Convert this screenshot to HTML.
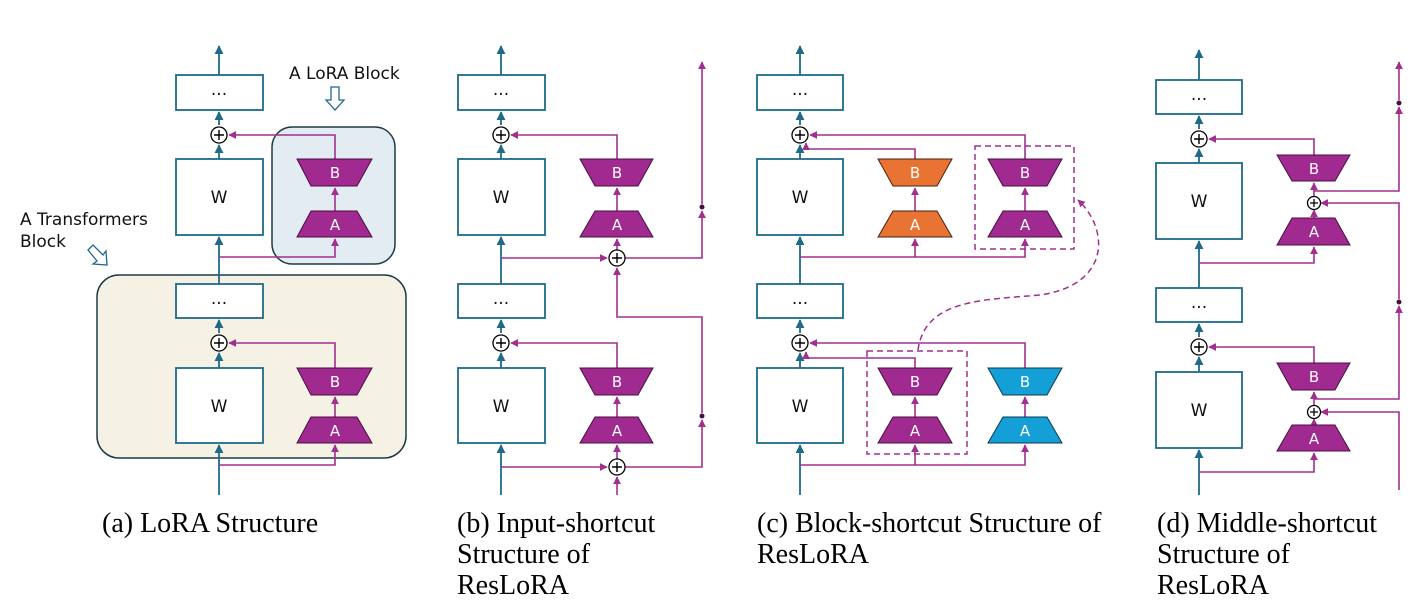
<!DOCTYPE html>
<html><head><meta charset="utf-8"><style>
html,body{margin:0;padding:0;background:#fff;}
svg{display:block}
.t{stroke:#1e6a8a;stroke-width:1.8;fill:none}
.p{stroke:#a0308f;stroke-width:1.6;fill:none}
.bx{fill:#fff;stroke:#1e6a8a;stroke-width:1.8}
.pl{fill:#fff;stroke:#000;stroke-width:1.3}
.cap{font-family:"Liberation Serif",serif;font-size:28px;fill:#000}
.lbl{font-family:"DejaVu Sans","Liberation Sans",sans-serif;font-size:15px;fill:#fff;text-anchor:middle}
.w{font-family:"DejaVu Sans","Liberation Sans",sans-serif;font-size:17px;fill:#111;text-anchor:middle}
.an{font-family:"DejaVu Sans","Liberation Sans",sans-serif;font-size:17px;fill:#111}
</style></head><body>
<svg width="1414" height="614" viewBox="0 0 1414 614" xmlns="http://www.w3.org/2000/svg">
<defs>
<marker id="mt" viewBox="0 0 10 10" refX="9" refY="5" markerWidth="5" markerHeight="5" orient="auto"><path d="M0,0L10,5L0,10z" fill="#1e6a8a"/></marker>
<marker id="mp" viewBox="0 0 10 10" refX="9" refY="5" markerWidth="5" markerHeight="5" orient="auto"><path d="M0,0L10,5L0,10z" fill="#a0308f"/></marker>
<g id="plus"><circle r="8" class="pl"/><path d="M-5,0H5M0,-5V5" stroke="#000" stroke-width="1.4"/></g>
<g id="splus"><circle r="6.5" class="pl"/><path d="M-4,0H4M0,-4V4" stroke="#000" stroke-width="1.3"/></g>
</defs>

<rect x="97" y="275" width="309" height="183" rx="22" fill="#f6f1e5" stroke="#1d3a44" stroke-width="1.5"/>
<rect x="272" y="127" width="123" height="137" rx="20" fill="#e3ecf3" stroke="#1d3a44" stroke-width="1.5"/>
<text class="an" x="289" y="79">A LoRA Block</text>
<path d="M331,87h8v13h5l-9,10l-9,-10h5z" fill="#fff" stroke="#1e6a8a" stroke-width="1.3"/>
<text class="an" x="20" y="225">A Transformers</text>
<text class="an" x="20" y="247">Block</text>
<path d="M88,250l5,-5l10,10l3,-4l1,14l-14,-1l4,-3z" fill="#fff" stroke="#1e6a8a" stroke-width="1.3"/>

<!-- Panel A -->
<g>
<path class="t" d="M219,495V445" marker-end="url(#mt)"/>
<path class="t" d="M219,368V353" marker-end="url(#mt)"/><path class="t" d="M219,333V320" marker-end="url(#mt)"/>
<path class="t" d="M219,284V237" marker-end="url(#mt)"/><path class="t" d="M219,159V145" marker-end="url(#mt)"/>
<path class="t" d="M219,125V112" marker-end="url(#mt)"/><path class="t" d="M219,75V46" marker-end="url(#mt)"/>
<rect class="bx" x="176" y="75" width="87" height="35"/><text class="w" x="219" y="95">...</text>
<rect class="bx" x="176" y="159" width="87" height="76"/><text class="w" x="219" y="203">W</text>
<rect class="bx" x="176" y="284" width="87" height="34"/><text class="w" x="219" y="304">...</text>
<rect class="bx" x="176" y="368" width="87" height="75"/><text class="w" x="219" y="412">W</text>
<use href="#plus" x="219" y="135"/><use href="#plus" x="219" y="343"/>
<path class="p" d="M219,257H335V239" marker-end="url(#mp)"/>
<path class="p" d="M335,211V188" marker-end="url(#mp)"/>
<path class="p" d="M335,159V135H229" marker-end="url(#mp)"/>
<path class="p" d="M219,465H335V445" marker-end="url(#mp)"/>
<path class="p" d="M335,417V397" marker-end="url(#mp)"/>
<path class="p" d="M335,368V343H229" marker-end="url(#mp)"/>
<path d="M297,159H372L357,186H311Z" fill="#a02a8f" stroke="#4a0e42"/><text class="lbl" x="335" y="178">B</text>
<path d="M311,211H357L372,237H297Z" fill="#a02a8f" stroke="#4a0e42"/><text class="lbl" x="335" y="230">A</text>
<path d="M297,368H372L357,395H311Z" fill="#a02a8f" stroke="#4a0e42"/><text class="lbl" x="335" y="387">B</text>
<path d="M311,417H357L372,443H297Z" fill="#a02a8f" stroke="#4a0e42"/><text class="lbl" x="335" y="436">A</text>
</g>

<!-- Panel B -->
<g>
<path class="t" d="M501,495V445" marker-end="url(#mt)"/>
<path class="t" d="M501,368V353" marker-end="url(#mt)"/><path class="t" d="M501,333V320" marker-end="url(#mt)"/>
<path class="t" d="M501,284V237" marker-end="url(#mt)"/><path class="t" d="M501,159V145" marker-end="url(#mt)"/>
<path class="t" d="M501,125V112" marker-end="url(#mt)"/><path class="t" d="M501,75V46" marker-end="url(#mt)"/>
<rect class="bx" x="458" y="75" width="87" height="35"/><text class="w" x="501" y="95">...</text>
<rect class="bx" x="458" y="159" width="87" height="76"/><text class="w" x="501" y="203">W</text>
<rect class="bx" x="458" y="284" width="87" height="34"/><text class="w" x="501" y="304">...</text>
<rect class="bx" x="458" y="368" width="87" height="75"/><text class="w" x="501" y="412">W</text>
<use href="#plus" x="501" y="135"/><use href="#plus" x="501" y="343"/>
<path class="p" d="M617,495V477" marker-end="url(#mp)"/>
<path class="p" d="M501,467H607" marker-end="url(#mp)"/>
<path class="p" d="M617,459V445" marker-end="url(#mp)"/>
<path class="p" d="M617,417V397" marker-end="url(#mp)"/>
<path class="p" d="M617,368V343H511" marker-end="url(#mp)"/>
<path class="p" d="M625,467H702V420" marker-end="url(#mp)"/>
<path class="p" d="M702,413V317H617V268" marker-end="url(#mp)"/>
<path class="p" d="M501,258H607" marker-end="url(#mp)"/>
<path class="p" d="M617,250V239" marker-end="url(#mp)"/>
<path class="p" d="M617,211V188" marker-end="url(#mp)"/>
<path class="p" d="M617,159V135H511" marker-end="url(#mp)"/>
<path class="p" d="M625,258H702V211" marker-end="url(#mp)"/>
<path class="p" d="M702,204V62" marker-end="url(#mp)"/>
<circle cx="702" cy="416" r="2.5" fill="#4a0e42"/><circle cx="702" cy="207" r="2.5" fill="#4a0e42"/>
<use href="#plus" x="617" y="467"/><use href="#plus" x="617" y="258"/>
<path d="M580,159H653L638,186H595Z" fill="#a02a8f" stroke="#4a0e42"/><text class="lbl" x="617" y="178">B</text>
<path d="M595,211H638L653,237H580Z" fill="#a02a8f" stroke="#4a0e42"/><text class="lbl" x="617" y="230">A</text>
<path d="M580,368H653L638,395H595Z" fill="#a02a8f" stroke="#4a0e42"/><text class="lbl" x="617" y="387">B</text>
<path d="M595,417H638L653,443H580Z" fill="#a02a8f" stroke="#4a0e42"/><text class="lbl" x="617" y="436">A</text>
</g>

<!-- Panel C -->
<g>
<path class="t" d="M800,495V445" marker-end="url(#mt)"/>
<path class="t" d="M800,368V353" marker-end="url(#mt)"/><path class="t" d="M800,333V320" marker-end="url(#mt)"/>
<path class="t" d="M800,284V237" marker-end="url(#mt)"/><path class="t" d="M800,159V145" marker-end="url(#mt)"/>
<path class="t" d="M800,125V112" marker-end="url(#mt)"/><path class="t" d="M800,75V46" marker-end="url(#mt)"/>
<rect class="bx" x="757" y="75" width="86" height="35"/><text class="w" x="800" y="95">...</text>
<rect class="bx" x="757" y="159" width="86" height="76"/><text class="w" x="800" y="203">W</text>
<rect class="bx" x="757" y="284" width="86" height="34"/><text class="w" x="800" y="304">...</text>
<rect class="bx" x="757" y="368" width="86" height="75"/><text class="w" x="800" y="412">W</text>
<use href="#plus" x="800" y="135"/><use href="#plus" x="800" y="343"/>
<rect x="975" y="146" width="99" height="103" fill="none" stroke="#a0308f" stroke-width="1.5" stroke-dasharray="6,4"/>
<rect x="867" y="351" width="100" height="103" fill="none" stroke="#a0308f" stroke-width="1.5" stroke-dasharray="6,4"/>
<path d="M918,350C925,300 980,300 1040,295C1110,285 1110,230 1078,200" fill="none" stroke="#a0308f" stroke-width="1.5" stroke-dasharray="6,4" marker-end="url(#mp)"/>
<path class="p" d="M800,257H915V239" marker-end="url(#mp)"/>
<path class="p" d="M915,257H1025V239" marker-end="url(#mp)"/>
<path class="p" d="M915,211V188" marker-end="url(#mp)"/><path class="p" d="M1025,211V188" marker-end="url(#mp)"/>
<path class="p" d="M915,159V149H806V143" marker-end="url(#mp)"/>
<path class="p" d="M1025,159V135H810" marker-end="url(#mp)"/>
<path class="p" d="M800,465H915V445" marker-end="url(#mp)"/>
<path class="p" d="M915,465H1025V445" marker-end="url(#mp)"/>
<path class="p" d="M915,417V397" marker-end="url(#mp)"/><path class="p" d="M1025,417V397" marker-end="url(#mp)"/>
<path class="p" d="M915,368V358H806V352" marker-end="url(#mp)"/>
<path class="p" d="M1025,368V343H810" marker-end="url(#mp)"/>
<path d="M878,159H952L937,186H893Z" fill="#e97332" stroke="#4a2010"/><text class="lbl" x="915" y="178">B</text>
<path d="M893,211H937L952,237H878Z" fill="#e97332" stroke="#4a2010"/><text class="lbl" x="915" y="230">A</text>
<path d="M988,159H1062L1047,186H1003Z" fill="#a02a8f" stroke="#4a0e42"/><text class="lbl" x="1025" y="178">B</text>
<path d="M1003,211H1047L1062,237H988Z" fill="#a02a8f" stroke="#4a0e42"/><text class="lbl" x="1025" y="230">A</text>
<path d="M878,368H952L937,395H893Z" fill="#a02a8f" stroke="#4a0e42"/><text class="lbl" x="915" y="387">B</text>
<path d="M893,417H937L952,443H878Z" fill="#a02a8f" stroke="#4a0e42"/><text class="lbl" x="915" y="436">A</text>
<path d="M988,368H1062L1047,395H1003Z" fill="#14a0d6" stroke="#0a3a50"/><text class="lbl" x="1025" y="387">B</text>
<path d="M1003,417H1047L1062,443H988Z" fill="#14a0d6" stroke="#0a3a50"/><text class="lbl" x="1025" y="436">A</text>
</g>

<!-- Panel D -->
<g>
<path class="t" d="M1199,495V450" marker-end="url(#mt)"/>
<path class="t" d="M1199,372V357" marker-end="url(#mt)"/><path class="t" d="M1199,337V324" marker-end="url(#mt)"/>
<path class="t" d="M1199,288V241" marker-end="url(#mt)"/><path class="t" d="M1199,163V149" marker-end="url(#mt)"/>
<path class="t" d="M1199,129V116" marker-end="url(#mt)"/><path class="t" d="M1199,80V50" marker-end="url(#mt)"/>
<rect class="bx" x="1156" y="80" width="86" height="34"/><text class="w" x="1199" y="100">...</text>
<rect class="bx" x="1156" y="163" width="86" height="76"/><text class="w" x="1199" y="207">W</text>
<rect class="bx" x="1156" y="288" width="86" height="34"/><text class="w" x="1199" y="308">...</text>
<rect class="bx" x="1156" y="372" width="86" height="76"/><text class="w" x="1199" y="416">W</text>
<use href="#plus" x="1199" y="139"/><use href="#plus" x="1199" y="347"/>
<path class="p" d="M1199,472H1314V453" marker-end="url(#mp)"/>
<path class="p" d="M1314,425V419" marker-end="url(#mp)"/>
<path class="p" d="M1314,405V392" marker-end="url(#mp)"/>
<path class="p" d="M1399,490V412H1321" marker-end="url(#mp)"/>
<path class="p" d="M1314,363V347H1209" marker-end="url(#mp)"/>
<path class="p" d="M1314,399H1399V306" marker-end="url(#mp)"/>
<path class="p" d="M1399,299V203H1321" marker-end="url(#mp)"/>
<path class="p" d="M1199,263H1314V247" marker-end="url(#mp)"/>
<path class="p" d="M1314,218V210" marker-end="url(#mp)"/>
<path class="p" d="M1314,196V183" marker-end="url(#mp)"/>
<path class="p" d="M1314,155V139H1209" marker-end="url(#mp)"/>
<path class="p" d="M1314,191H1399V107" marker-end="url(#mp)"/>
<path class="p" d="M1399,100V62" marker-end="url(#mp)"/>
<circle cx="1399" cy="302" r="2.5" fill="#4a0e42"/><circle cx="1399" cy="103" r="2.5" fill="#4a0e42"/>
<use href="#splus" x="1314" y="203"/><use href="#splus" x="1314" y="412"/>
<path d="M1277,155H1350L1335,181H1292Z" fill="#a02a8f" stroke="#4a0e42"/><text class="lbl" x="1314" y="174">B</text>
<path d="M1292,218H1335L1350,245H1277Z" fill="#a02a8f" stroke="#4a0e42"/><text class="lbl" x="1314" y="237">A</text>
<path d="M1277,363H1350L1335,390H1292Z" fill="#a02a8f" stroke="#4a0e42"/><text class="lbl" x="1314" y="382">B</text>
<path d="M1292,425H1335L1350,451H1277Z" fill="#a02a8f" stroke="#4a0e42"/><text class="lbl" x="1314" y="444">A</text>
</g>

<text class="cap" x="102" y="532">(a) LoRA Structure</text>
<text class="cap" x="457" y="532">(b) Input-shortcut</text>
<text class="cap" x="457" y="563">Structure of</text>
<text class="cap" x="457" y="594">ResLoRA</text>
<text class="cap" x="757" y="532">(c) Block-shortcut Structure of</text>
<text class="cap" x="757" y="563">ResLoRA</text>
<text class="cap" x="1157" y="532">(d) Middle-shortcut</text>
<text class="cap" x="1157" y="563">Structure of</text>
<text class="cap" x="1157" y="594">ResLoRA</text>
</svg>
</body></html>
